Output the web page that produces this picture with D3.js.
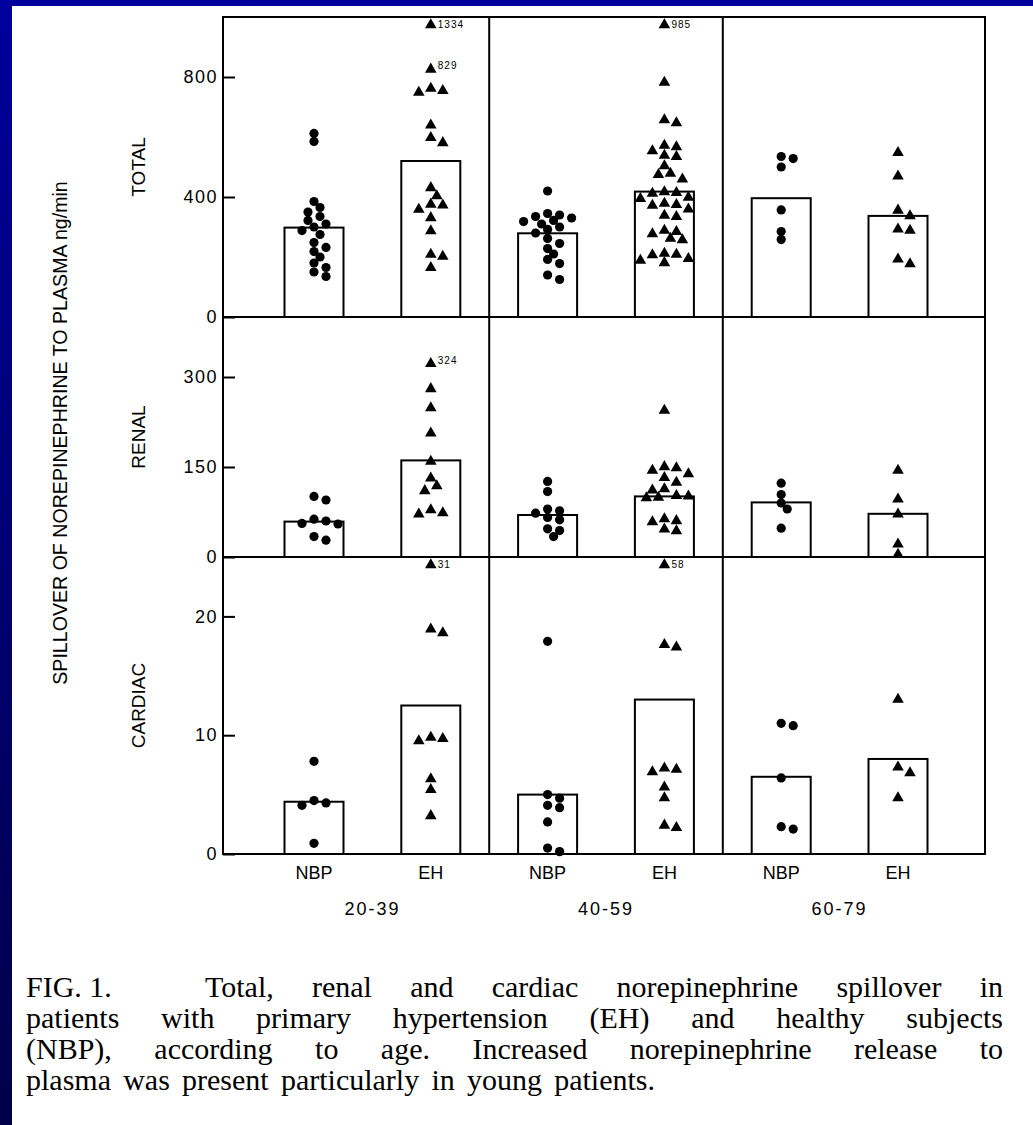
<!DOCTYPE html>
<html>
<head>
<meta charset="utf-8">
<script src="https://cdn.jsdelivr.net/npm/d3@7"></script>
<style>
  html, body { margin: 0; padding: 0; background: #000080; }
  svg { display: block; }
  .tick line { stroke: #000; stroke-width: 2; }
  .tick text { font-family: "Liberation Sans", Arial, sans-serif; font-size: 18px; letter-spacing: 1.5px; fill: #000; }
</style>
</head>
<body>
<div class="chart"></div>
<script>
// categories
const ages = ["20-39", "40-59", "60-79"];
const groups = ["NBP", "EH"];
const rows = ["TOTAL", "RENAL", "CARDIAC"];

// y axis domains and tick labels per row
const yMax = [1000, 400, 25];
const yTicks = [[0, 400, 800], [0, 150, 300], [0, 10, 20]];

// bar heights (group means), order: 20-39 NBP, 20-39 EH, 40-59 NBP, 40-59 EH, 60-79 NBP, 60-79 EH
const barTotal = [298, 520, 279, 418, 396, 337];
const barRenal = [59, 161, 70, 101, 91, 72];
const barCardiac = [4.4, 12.5, 5.0, 13.0, 6.5, 8.0];

// individual subjects, same order
const ptsTotal = [
  [612, 585, 385, 365, 350, 335, 322, 310, 300, 288, 275, 248, 232, 218, 200, 180, 165, 150, 135],
  [1334, 829, 765, 758, 752, 643, 601, 584, 434, 407, 379, 376, 362, 334, 290, 212, 205, 168],
  [420, 345, 340, 335, 330, 322, 318, 310, 300, 292, 280, 262, 245, 228, 210, 192, 178, 140, 125],
  [985, 785, 660, 650, 575, 570, 557, 542, 538, 507, 482, 478, 463, 420, 418, 415, 402, 398, 382,
   378, 375, 363, 342, 338, 292, 288, 280, 265, 260, 215, 212, 210, 198, 192, 184],
  [535, 528, 500, 357, 285, 258],
  [551, 473, 359, 340, 296, 292, 196, 180]
];
const ptsRenal = [
  [101, 95, 63, 60, 56, 55, 34, 28],
  [324, 282, 250, 208, 161, 133, 120, 112, 80, 75, 73],
  [126, 109, 80, 77, 73, 66, 62, 47, 44, 34],
  [246, 152, 150, 146, 140, 134, 126, 115, 113, 104, 103, 101, 100, 65, 62, 60, 48, 45],
  [123, 104, 90, 80, 48],
  [146, 98, 73, 23, 6]
];
const ptsCardiac = [
  [7.8, 4.5, 4.3, 4.1, 0.9],
  [31, 19.0, 18.7, 9.9, 9.8, 9.6, 6.4, 5.5, 3.3],
  [17.9, 5.0, 4.7, 4.1, 3.9, 2.7, 0.5, 0.2],
  [58, 17.7, 17.5, 7.3, 7.2, 7.0, 5.7, 4.8, 2.5, 2.3],
  [11.0, 10.8, 6.4, 2.3, 2.1],
  [13.1, 7.4, 6.9, 4.8]
];
// values written next to their marker
const notesTotal = [1334, 829, 985];
const notesRenal = [324];
const notesCardiac = [31, 58];

const yLabel = "SPILLOVER OF NOREPINEPHRINE TO PLASMA ng/min";
const figLabel = "FIG. 1.";
const caption = [
  "Total, renal and cardiac norepinephrine spillover in",
  "patients with primary hypertension (EH) and healthy subjects",
  "(NBP), according to age. Increased norepinephrine release to",
  "plasma was present particularly in young patients."
];

// ---- layout
const svgWidth = 1033, svgHeight = 1125;
const frame = { left: 223, right: 985, top: 17 };
const rowBottom = [317, 557, 854];
const rowTop = [frame.top, rowBottom[0], rowBottom[1]];
const barWidth = 59;
const sans = "'Liberation Sans', Arial, sans-serif";

const barMeans = [barTotal, barRenal, barCardiac];
const points = [ptsTotal, ptsRenal, ptsCardiac];
const notes = [notesTotal, notesRenal, notesCardiac];

const keys = ages.flatMap(a => groups.map(g => a + " " + g));
const x = d3.scalePoint().domain(keys).range([314, 898]);

const svg = d3.select(".chart").append("svg")
  .attr("width", svgWidth)
  .attr("height", svgHeight);

// blue slide background with white sheet
const grad = svg.append("defs").append("linearGradient")
  .attr("id", "bg").attr("x1", 0).attr("y1", 0).attr("x2", 0).attr("y2", 1);
grad.append("stop").attr("offset", "0%").attr("stop-color", "#00009c");
grad.append("stop").attr("offset", "100%").attr("stop-color", "#000048");
svg.append("rect").attr("width", svgWidth).attr("height", svgHeight).attr("fill", "url(#bg)");
svg.append("rect").attr("x", 12).attr("y", 6)
  .attr("width", svgWidth - 12).attr("height", svgHeight - 6).attr("fill", "#fff");

// spread points with similar values side by side
function dodge(ys, minDist, step) {
  const placed = [];
  return ys.map(y => {
    for (let k = 0; k < 40; k++) {
      const dx = (k % 2 ? 1 : -1) * Math.ceil(k / 2) * step;
      if (placed.every(p => (p.dx - dx) ** 2 + (p.y - y) ** 2 >= minDist * minDist)) {
        placed.push({ dx, y });
        return dx;
      }
    }
    return 0;
  });
}

const tri = d3.symbol().type(d3.symbolTriangle).size(58);

rows.forEach((name, r) => {
  const top = rowTop[r], bottom = rowBottom[r];
  const y = d3.scaleLinear().domain([0, yMax[r]]).range([bottom, top]);
  const g = svg.append("g").attr("class", "row");

  // bars
  g.selectAll("rect.bar")
    .data(keys)
    .join("rect")
    .attr("class", "bar")
    .attr("x", k => x(k) - barWidth / 2)
    .attr("y", (k, i) => y(barMeans[r][i]))
    .attr("width", barWidth)
    .attr("height", (k, i) => bottom - y(barMeans[r][i]))
    .attr("fill", "#fff")
    .attr("stroke", "#000")
    .attr("stroke-width", 2);

  // subjects
  keys.forEach((k, i) => {
    const isEH = k.endsWith("EH");
    const vals = points[r][i].slice().sort((a, b) => b - a);
    const ys = vals.map(v => Math.max(y(v), top + 7));
    const dxs = dodge(ys, isEH ? 9 : 8, 6);
    vals.forEach((v, j) => {
      const cx = x(k) + dxs[j], cy = ys[j];
      if (isEH) {
        g.append("path").attr("d", tri).attr("transform", `translate(${cx},${cy + 1})`).attr("fill", "#000");
      } else {
        g.append("circle").attr("cx", cx).attr("cy", cy).attr("r", 4.6).attr("fill", "#000");
      }
      if (notes[r].includes(v)) {
        g.append("text")
          .attr("x", cx + 7).attr("y", cy + (y(v) < top + 7 ? 4 : 1))
          .attr("font-family", sans).attr("font-size", 10).attr("letter-spacing", 1)
          .text(v);
      }
    });
  });

  // y axis
  const axis = g.append("g")
    .attr("transform", `translate(${frame.left},0)`)
    .call(d3.axisLeft(y).tickValues(yTicks[r]).tickSizeInner(-12).tickSizeOuter(0).tickPadding(5).tickFormat(d3.format("d")));
  axis.select(".domain").remove();

  // row label
  svg.append("text")
    .attr("transform", `translate(145,${(top + bottom) / 2}) rotate(-90)`)
    .attr("text-anchor", "middle")
    .attr("font-family", sans).attr("font-size", 19)
    .text(name);
});

// frame and dividers
const frameG = svg.append("g").attr("fill", "none").attr("stroke", "#000").attr("stroke-width", 2);
frameG.append("rect")
  .attr("x", frame.left).attr("y", frame.top)
  .attr("width", frame.right - frame.left).attr("height", rowBottom[2] - frame.top);
rowBottom.slice(0, 2).forEach(yy => {
  frameG.append("line").attr("x1", frame.left).attr("x2", frame.right).attr("y1", yy).attr("y2", yy);
});
ages.slice(0, 2).forEach((a, i) => {
  const xm = (x(a + " EH") + x(ages[i + 1] + " NBP")) / 2;
  frameG.append("line").attr("x1", xm).attr("x2", xm).attr("y1", frame.top).attr("y2", rowBottom[2]);
});

// group and age labels
svg.append("g").selectAll("text")
  .data(keys)
  .join("text")
  .attr("x", k => x(k))
  .attr("y", 879)
  .attr("text-anchor", "middle")
  .attr("font-family", sans).attr("font-size", 18)
  .text(k => k.split(" ")[1]);

svg.append("g").selectAll("text")
  .data(ages)
  .join("text")
  .attr("x", a => (x(a + " NBP") + x(a + " EH")) / 2)
  .attr("y", 915)
  .attr("text-anchor", "middle")
  .attr("font-family", sans).attr("font-size", 18).attr("letter-spacing", 2)
  .text(a => a);

// main y label
svg.append("text")
  .attr("transform", `translate(67,${(178 + 688) / 2}) rotate(-90)`)
  .attr("text-anchor", "middle")
  .attr("font-family", sans).attr("font-size", 19.6)
  .text(yLabel);

// caption, justified by word spacing
const capLeft = 26;
const lineStart = [205, capLeft, capLeft, capLeft];
const lineEnd = [1003, 1003, 1003, 655];
const capG = svg.append("g")
  .attr("font-family", "'Liberation Serif', 'Times New Roman', serif")
  .attr("font-size", 30)
  .attr("fill", "#000");
capG.append("text").attr("x", capLeft).attr("y", 997).text(figLabel);
caption.forEach((line, i) => {
  const t = capG.append("text")
    .attr("x", lineStart[i])
    .attr("y", 997 + i * 31)
    .text(line);
  const natural = t.node().getComputedTextLength();
  const gaps = (line.match(/ /g) || []).length;
  t.attr("word-spacing", (lineEnd[i] - lineStart[i] - natural) / gaps);
});
</script>
</body>
</html>
